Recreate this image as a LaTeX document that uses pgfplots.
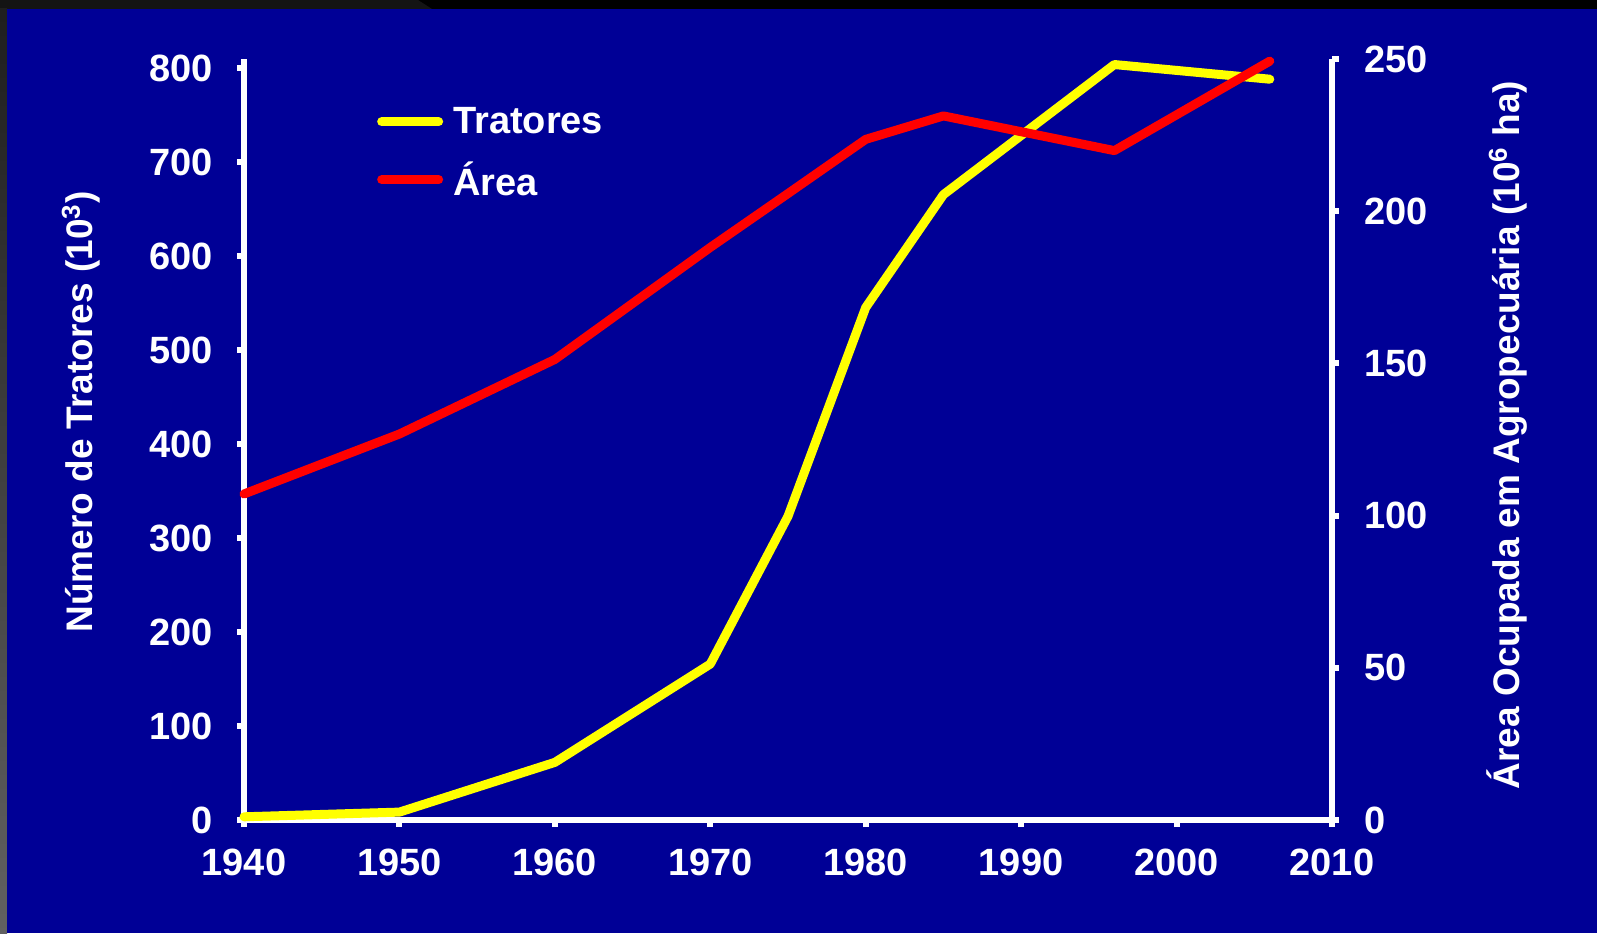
\documentclass[border=0pt]{standalone}
\usepackage{pgfplots}
\pgfplotsset{compat=1.18}
\usepackage{fontspec}
\setmainfont{Liberation Sans}

\definecolor{panel}{RGB}{0,0,150}
\definecolor{tratyellow}{RGB}{255,255,0}
\definecolor{areared}{RGB}{255,0,0}

\newcommand{\tickfont}{\fontsize{19}{22}\selectfont\bfseries}
\newcommand{\titlefont}{\fontsize{18.5}{22}\selectfont\bfseries}

% Tratores (10^3 unidades)
\pgfplotstableread{
ano  tratores
1940 3.4
1950 8.4
1960 61.3
1970 165.9
1975 323.1
1980 545.2
1985 665.3
1996 803.7
2006 788.1
}\tratores

% Area ocupada em agropecuaria (10^6 ha)
\pgfplotstableread{
ano  area
1940 107.1
1950 126.8
1960 151.3
1970 188.1
1975 205.8
1980 223.6
1985 231.3
1996 219.9
2006 249.3
}\area

\pgfplotsset{
  common/.style={
    at={(122pt,56.5pt)}, anchor=south west,
    scale only axis, width=544pt, height=380.5pt,
    xmin=1940, xmax=2010, ymin=0,
    clip=false,
    axis line style={white, line width=3pt},
    tick align=outside, major tick length=3.5pt,
    tick style={white, line width=3pt},
    ticklabel style={text=white, font=\tickfont},
    /pgf/number format/assume math mode=true,
    /pgf/number format/1000 sep={},
    scaled ticks=false,
  },
  dataline/.style={line width=4.5pt, line cap=round, line join=round},
}

\begin{document}
\begin{tikzpicture}[x=0.5pt,y=0.5pt]
% slide frame
\fill[black] (0,0) rectangle (1597,933);
\fill[black!92] (0,933) -- (418,933) -- (432,924) -- (0,924) -- cycle;
\shade[top color=black!88, bottom color=black!62] (0,0) rectangle (7,924);
\fill[panel] (7,0) rectangle (1597,924);

% left axis: tractors
\begin{axis}[common,
  ymax=809.6,
  axis x line*=bottom, axis y line*=left,
  xtick={1940,1950,...,2010}, ytick={0,100,...,800},
  xticklabel style={yshift=-7.5pt},
  yticklabel style={xshift=-8.7pt},
  legend style={draw=none, fill=none, text=white, font=\tickfont,
    at={(rel axis cs:0.1165,0.877)}, anchor=west,
    row sep=8.5pt,
    /tikz/every odd column/.style={column sep=3pt}},
  legend cell align=left,
  legend image code/.code={\draw[#1] (0pt,0pt) -- (28.5pt,0pt);},
]
\addplot[tratyellow, dataline] table[x=ano, y=tratores] {\tratores};
\addlegendentry{Tratores}
\addlegendimage{areared, dataline}
\addlegendentry{Área}
\end{axis}

% right axis: area
\begin{axis}[common,
  ymax=250,
  axis x line=none, axis y line*=right,
  ytick={0,50,...,250},
  yticklabel style={xshift=9pt},
]
\addplot[areared, dataline] table[x=ano, y=area] {\area};
\end{axis}

% axis titles
\node[rotate=90, text=white, font=\titlefont] at (81,521) {Número de Tratores (10\textsuperscript{3})};
\node[rotate=90, text=white, font=\titlefont] at (1507,498) {Área Ocupada em Agropecuária (10\textsuperscript{6} ha)};
\end{tikzpicture}
\end{document}
